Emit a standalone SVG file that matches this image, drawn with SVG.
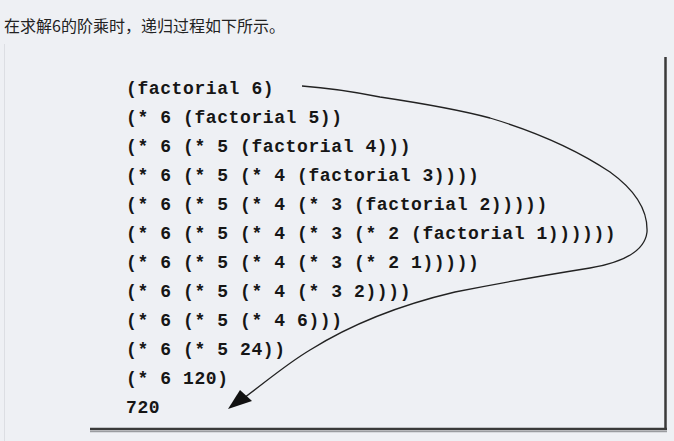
<svg xmlns="http://www.w3.org/2000/svg" width="674" height="441" viewBox="0 0 674 441">
<style>
.code{font-family:"Liberation Mono","DejaVu Sans Mono",monospace;font-size:18px;font-weight:bold;fill:#161616;letter-spacing:0.6px}
.cap{font-family:"Noto Sans CJK SC","Noto Sans",sans-serif;font-size:16px;fill:#222}
</style>
<rect width="674" height="441" fill="#eef0f4"/>
<line x1="4.5" y1="44" x2="4.5" y2="441" stroke="#dcdee3" stroke-width="1"/>
<text class="cap" x="4" y="32">在求解6的阶乘时，递归过程如下所示。</text>
<g id="frame">
<line x1="665.5" y1="57" x2="665.5" y2="430" stroke="#3a3a3a" stroke-width="2.5"/>
<line x1="90" y1="429" x2="667" y2="429" stroke="#3a3a3a" stroke-width="2.5"/>
<line x1="90" y1="431.5" x2="667" y2="431.5" stroke="#9a9ca0" stroke-width="1.5"/>
</g>
<g id="code">
<text class="code" x="126" y="94">(factorial 6)</text>
<text class="code" x="126" y="123">(* 6 (factorial 5))</text>
<text class="code" x="126" y="152">(* 6 (* 5 (factorial 4)))</text>
<text class="code" x="126" y="181">(* 6 (* 5 (* 4 (factorial 3))))</text>
<text class="code" x="126" y="210">(* 6 (* 5 (* 4 (* 3 (factorial 2)))))</text>
<text class="code" x="126" y="239">(* 6 (* 5 (* 4 (* 3 (* 2 (factorial 1))))))</text>
<text class="code" x="126" y="268">(* 6 (* 5 (* 4 (* 3 (* 2 1)))))</text>
<text class="code" x="126" y="297">(* 6 (* 5 (* 4 (* 3 2))))</text>
<text class="code" x="126" y="326">(* 6 (* 5 (* 4 6)))</text>
<text class="code" x="126" y="355">(* 6 (* 5 24))</text>
<text class="code" x="126" y="384">(* 6 120)</text>
<text class="code" x="126" y="413">720</text>
</g>
<g id="connectors" fill="none" stroke="#222" stroke-width="1.3">
<path d="M302,86 C330,88 355,92 380,97 C420,103 460,110 490,118 C540,133 580,152 610,172 C635,190 648,210 647,232 C645,250 625,262 590,268 C540,276 490,285 455,292 C400,305 350,325 310,350 C285,365 262,385 245,397"/>
<polygon points="228,409 240,390 252,401" fill="#111" stroke="none"/>
</g>
</svg>
